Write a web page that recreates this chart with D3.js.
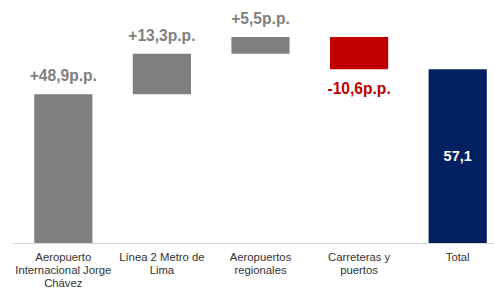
<!DOCTYPE html>
<meta charset="utf-8">
<style>
body { margin: 0; background: #fff; }
text { font-family: "Liberation Sans", Arial, sans-serif; }
.cat { font-size: 11.3px; fill: #333; }
.lbl { font-size: 15.6px; font-weight: bold; }
.lbl.total { font-size: 14.5px; }
</style>
<svg width="494" height="288"></svg>
<script src="https://d3js.org/d3.v7.min.js"></script>
<script>

var categories = [
  ["Aeropuerto", "Internacional Jorge", "Chávez"],
  ["Línea 2 Metro de", "Lima"],
  ["Aeropuertos", "regionales"],
  ["Carreteras y", "puertos"],
  ["Total"]
];
var values = [48.9, 13.3, 5.5, -10.6, 57.1];
var labels = ["+48,9p.p.", "+13,3p.p.", "+5,5p.p.", "-10,6p.p.", "57,1"];
var kinds = ["up", "up", "up", "down", "total"];

var svg = d3.select("svg"),
    baseY = 243;

var x = d3.scaleBand().domain(d3.range(values.length)).range([14, 507]).paddingInner(0.41).paddingOuter(0.205),
    y = d3.scaleLinear().domain([0, 67.7]).range([baseY, 37]);

var colors = {up: "#7f7f7f", down: "#c00000", total: "#002060"};

// running totals
var data = [], cum = 0;
values.forEach(function(v, i) {
  var d = {i: i, v: v, kind: kinds[i], label: labels[i]};
  if (kinds[i] === "total") { d.y0 = 0; d.y1 = v; }
  else { d.y0 = cum; d.y1 = cum + v; cum += v; }
  data.push(d);
});

svg.append("line")
    .attr("x1", 13).attr("x2", 494)
    .attr("y1", baseY + 0.5).attr("y2", baseY + 0.5)
    .attr("stroke", "#d9d9d9");

svg.selectAll(".bar")
  .data(data)
  .enter().append("rect")
    .attr("class", "bar")
    .attr("x", function(d) { return x(d.i); })
    .attr("width", x.bandwidth())
    .attr("y", function(d) { return y(Math.max(d.y0, d.y1)); })
    .attr("height", function(d) { return Math.abs(y(d.y0) - y(d.y1)); })
    .attr("fill", function(d) { return colors[d.kind]; });

svg.selectAll(".lbl")
  .data(data)
  .enter().append("text")
    .attr("class", function(d) { return "lbl " + d.kind; })
    .attr("text-anchor", "middle")
    .attr("x", function(d) { return x(d.i) + x.bandwidth() / 2; })
    .attr("y", function(d) {
      if (d.kind === "up") return y(d.y1) - 13;
      if (d.kind === "down") return y(d.y1) + 25;
      return (y(0) + y(d.y1)) / 2 + 5;
    })
    .attr("fill", function(d) { return d.kind === "down" ? "#c00000" : d.kind === "total" ? "#fff" : "#808080"; })
    .text(function(d) { return d.label; });

svg.selectAll(".cat")
  .data(categories)
  .enter().append("text")
    .attr("class", "cat")
    .attr("text-anchor", "middle")
    .attr("transform", function(d, i) { return "translate(" + (x(i) + x.bandwidth() / 2) + "," + 261 + ")"; })
  .selectAll("tspan")
  .data(function(d) { return d; })
  .enter().append("tspan")
    .attr("x", 0)
    .attr("y", function(d, j) { return j * 12.8; })
    .text(function(d) { return d; });

</script>
